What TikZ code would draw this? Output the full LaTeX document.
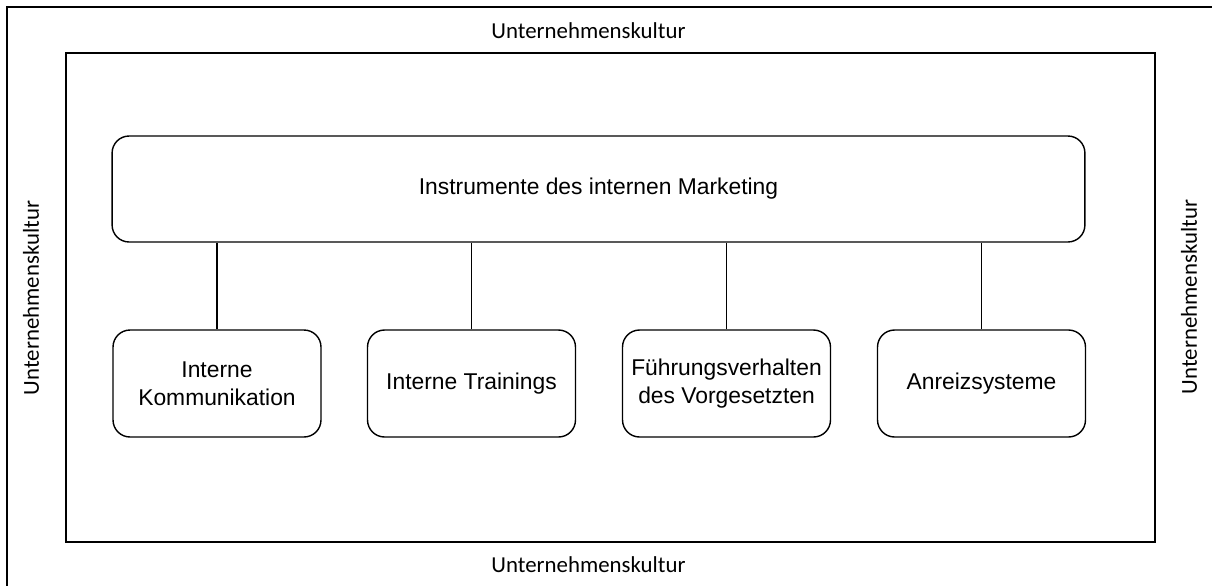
\documentclass[tikz,border=0pt]{standalone}
\usepackage{fontspec}
\setmainfont{Liberation Sans}
\newfontfamily\kulturfont{Carlito}
\usetikzlibrary{positioning}
\tikzset{box/.style = {draw, rounded corners = 0.34cm, align = center, inner sep = 0,
    font = \fontsize{13}{16}\selectfont}}
\tikzset{smallbox/.style = {box, minimum width = 4.16cm, minimum height = 2.14cm}}
\tikzset{kultur/.style = {inner sep = 0, font = \kulturfont\fontsize{13}{16}\selectfont}}

\begin{document}
\begin{tikzpicture}[x = 0.02cm, y = -0.02cm, line width = 0.8pt]
      \useasboundingbox (0, 0) rectangle (1212, 585);
      \clip (0, 0) rectangle (1212, 585);
      \draw (7, 7) rectangle (1230, 600);
      \draw (66, 53) rectangle (1155, 542);

      \node [kultur] (oben) at (588.5, 31) {Unternehmenskultur};
      \node [kultur] (unten) at (588.5, 565) {Unternehmenskultur};
      \node [kultur, rotate = 90] (links) at (31, 298) {Unternehmenskultur};
      \node [kultur, rotate = 90] (rechts) at (1189, 297) {Unternehmenskultur};

      \node [box, minimum width = 19.46cm, minimum height = 2.12cm] (instr) at (598.5, 189)
        {Instrumente des internen Marketing};

      \node [smallbox] (komm) at (217, 383.5) {Interne\\Kommunikation};
      \node [smallbox] (train) at (471.5, 383.5) {Interne Trainings};
      \node [smallbox] (fuehr) at (726.5, 383.5) {Führungsverhalten\\des Vorgesetzten};
      \node [smallbox] (anreiz) at (981.5, 383.5) {Anreizsysteme};

      \draw (komm.north) -- (komm.north |- instr.south);
      \draw (train.north) -- (train.north |- instr.south);
      \draw (fuehr.north) -- (fuehr.north |- instr.south);
      \draw (anreiz.north) -- (anreiz.north |- instr.south);
    \end{tikzpicture}
\end{document}
